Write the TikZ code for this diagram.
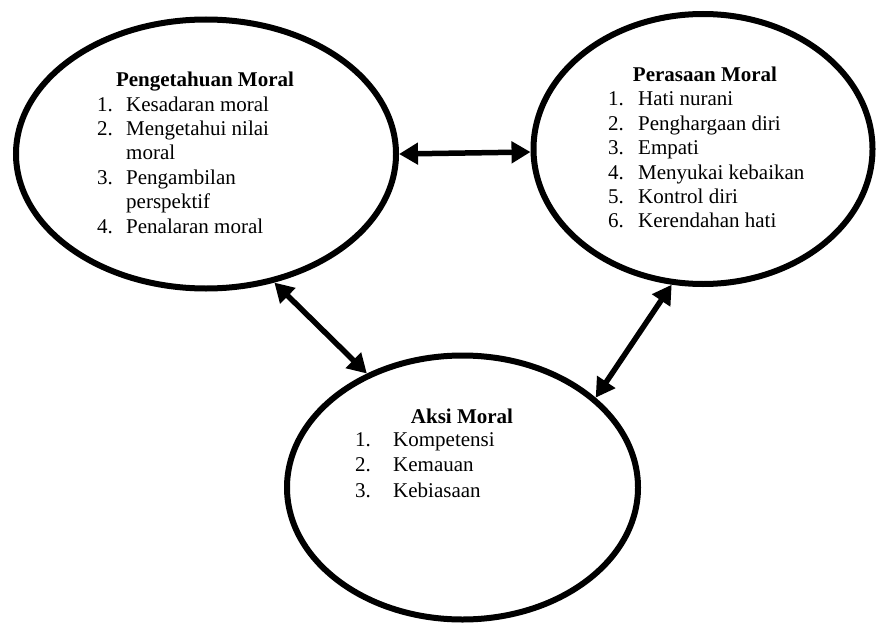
\documentclass[tikz,border=0pt]{standalone}
\usepackage{fontspec}
\setmainfont{Liberation Serif}
\usetikzlibrary{arrows.meta,shapes.geometric}
\newcommand{\numitem}[2]{\makebox[#1][l]{#2}}
\tikzset{
  ell/.style={draw=black, line width=6pt, ellipse, inner sep=0pt, fill=white},
  arr/.style={line width=5.5pt, {Triangle[length=19pt,width=21pt]}-{Triangle[length=19pt,width=21pt]}},
  ttl/.style={anchor=base, inner sep=0pt, font=\fontsize{21}{24.4}\selectfont\bfseries},
  lst/.style={anchor=base west, inner sep=0pt, font=\fontsize{21}{24.4}\selectfont, align=left}
}
\begin{document}
\begin{tikzpicture}[x=1pt,y=-1pt]
\useasboundingbox (0,0) rectangle (877,623);
\node[ell, minimum width=380pt, minimum height=269pt] (L) at (206,154) {};
\node[ell, minimum width=339pt, minimum height=270pt] (R) at (703,149) {};
\node[ell, minimum width=351pt, minimum height=264pt] (B) at (462.5,487.5) {};

\draw[arr] (L.0) -- (R.181.7);
\draw[arr] (L.-62.6) -- (B.130.8);
\draw[arr] (R.-103) -- (B.34.3);

\node[ttl] (Lt) at (205,87) {Pengetahuan Moral};
\node[lst] (Ll) at (97,111) {\begin{tabular}[t]{@{}l@{}l@{}}
\numitem{29pt}{1.} & Kesadaran moral\\
\numitem{29pt}{2.} & Mengetahui nilai\\
 & moral\\
\numitem{29pt}{3.} & Pengambilan\\
 & perspektif\\
\numitem{29pt}{4.} & Penalaran moral
\end{tabular}};

\node[ttl] (Rt) at (705,82) {Perasaan Moral};
\node[lst] (Rl) at (608,106) {\begin{tabular}[t]{@{}l@{}l@{}}
\numitem{30pt}{1.} & Hati nurani\\
\numitem{30pt}{2.} & Penghargaan diri\\
\numitem{30pt}{3.} & Empati\\
\numitem{30pt}{4.} & Menyukai kebaikan\\
\numitem{30pt}{5.} & Kontrol diri\\
\numitem{30pt}{6.} & Kerendahan hati
\end{tabular}};

\node[ttl] (Bt) at (462,423) {Aksi Moral};
\node[lst, font=\fontsize{21}{25.5}\selectfont] (Bl) at (355,446) {\begin{tabular}[t]{@{}l@{}l@{}}
\numitem{38pt}{1.} & Kompetensi\\
\numitem{38pt}{2.} & Kemauan\\
\numitem{38pt}{3.} & Kebiasaan
\end{tabular}};
\end{tikzpicture}
\end{document}
